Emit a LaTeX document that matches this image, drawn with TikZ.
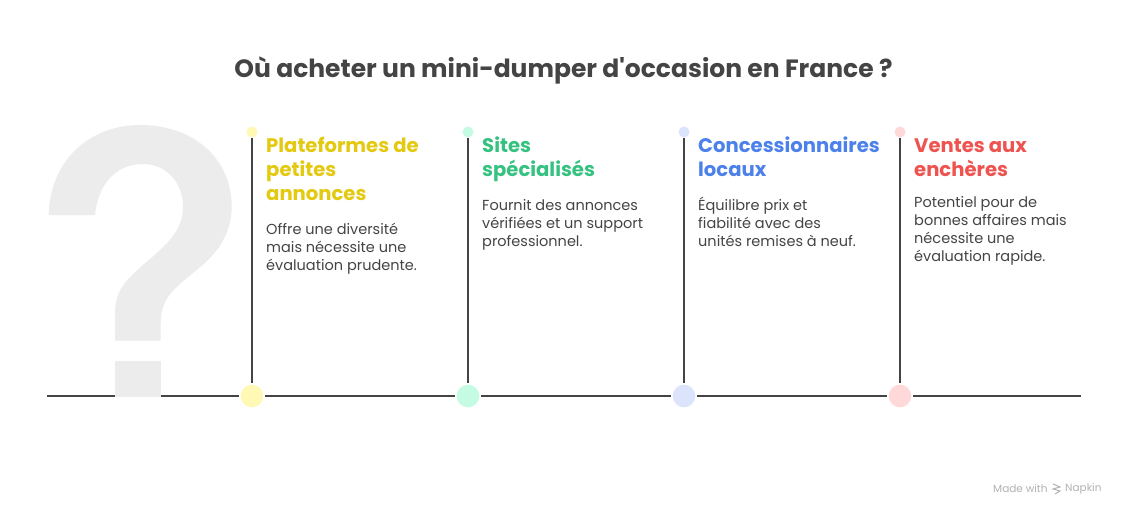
\documentclass[tikz,border=0pt]{standalone}
\usepackage{fontspec}
\setmainfont{Poppins}
\definecolor{ink}{HTML}{444444}
\definecolor{qm}{HTML}{ECECEC}
\definecolor{hy}{HTML}{E3C90F}\definecolor{fy}{HTML}{FFF9B5}
\definecolor{hg}{HTML}{35C281}\definecolor{fg}{HTML}{C4FBE2}
\definecolor{hb}{HTML}{4C80EA}\definecolor{fb}{HTML}{DCE4FB}
\definecolor{hr}{HTML}{EF5350}\definecolor{fr}{HTML}{FFD9D9}
\tikzset{
 big/.style={circle,fill=#1,draw=white,line width=1.5pt,minimum size=24.5pt,inner sep=0pt},
 small/.style={circle,fill=#1,minimum size=11pt,inner sep=0pt},
 conn/.style={draw=ink,line width=1.8pt},
 head/.style={anchor=north west,align=left,inner sep=0pt,text=#1,font=\fontsize{19.6}{24}\selectfont\bfseries},
 body/.style={anchor=north west,align=left,inner sep=0pt,text=ink,font=\fontsize{14.5}{18}\selectfont},
}
\begin{document}
\begin{tikzpicture}[x=1pt,y=-1pt]
\useasboundingbox (0,0) rectangle (1126,516);
\fill[white] (0,0) rectangle (1126,516);
\node[inner sep=0pt,text=ink,font=\fontsize{25}{30}\selectfont\bfseries] (title) at (563.5,70.5) {Où acheter un mini-dumper d\textquotesingle occasion en France ?};
\coordinate (ls) at (47,396);
\coordinate (le) at (1081,396);
\draw[conn] (ls) -- (le);
% question mark
\fill[qm] (48.7,215) .. controls (50,160) and (90,125) .. (140,125)
 .. controls (195,125) and (232,160) .. (231.7,207)
 .. controls (231,240) and (212,258) .. (193,273)
 .. controls (172,290) and (160.7,300) .. (160.7,323)
 -- (160.7,340.7) -- (115,340.7) -- (115,312)
 .. controls (115,290) and (128,278) .. (143,265)
 .. controls (165,246) and (183,232) .. (183,207)
 .. controls (183,182) and (166,164) .. (143,164)
 .. controls (115,164) and (98,185) .. (95,215) -- cycle;
\fill[qm] (115,361) rectangle (160.7,396.8);
% markers
\foreach \n/\x/\c in {a/252/fy,b/468/fg,c/684/fb,d/900/fr}{
 \node[big=\c] (\n bot) at (\x,396) {};
 \node[small=\c] (\n top) at (\x,132) {};
 \draw[conn] (\n top) -- (\n bot);
}
\node[head=hy] (ah) at (266,137) {Plateformes de\\petites\\annonces};
\node[body] (ab) at (266,223) {Offre une diversité\\mais nécessite une\\évaluation prudente.};
\node[head=hg] (bh) at (482,137) {Sites\\spécialisés};
\node[body] (bb) at (482,199) {Fournit des annonces\\vérifiées et un support\\professionnel.};
\node[head=hb] (ch) at (698,137) {Concessionnaires\\locaux};
\node[body] (cb) at (698,197) {Équilibre prix et\\fiabilité avec des\\unités remises à neuf.};
\node[head=hr] (dh) at (914,139) {Ventes aux\\enchères};
\node[body] (db) at (914,196.5) {Potentiel pour de\\bonnes affaires mais\\nécessite une\\évaluation rapide.};
% footer
\node[inner sep=0pt,anchor=west,text=black!30,font=\fontsize{10.5}{13}\selectfont] (made) at (993,488.5) {Made with};
\node[inner sep=0pt,anchor=west,text=black!30,font=\fontsize{10.5}{13}\selectfont] (nap) at (1065,488.5) {Napkin};
\draw[black!30,line width=1pt] (1053,484) -- (1060,487) -- (1053,489) -- (1060,491) -- (1055,494);
\end{tikzpicture}
\end{document}
